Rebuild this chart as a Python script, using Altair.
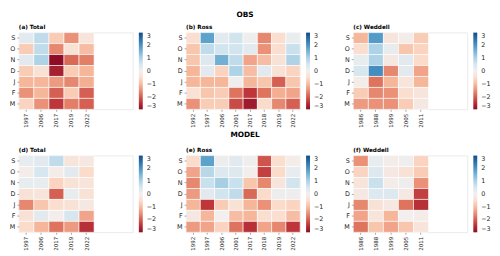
import altair as alt
import pandas as pd

FONT = "DejaVu Sans"

months = ["S", "O", "N", "D", "J", "F", "M"]
years_total = ["1997", "2006", "2017", "2019", "2022"]
years_ross = ["1992", "1997", "2006", "2001", "2017", "2018", "2019", "2022"]
years_weddell = ["1986", "1988", "1999", "2005", "2011"]

# values by month row (S..M), columns by year
obs_total = [
    [0.3, 0.8, -0.8, -1.5, -0.3],
    [-0.8, 0.8, -1.6, -0.4, -1.0],
    [0.3, 1.0, -3.0, -1.9, -1.7],
    [-0.8, -0.4, -2.7, -0.8, -1.1],
    [-1.1, -1.1, -1.4, -1.6, -1.2],
    [-1.5, -1.1, -2.0, -0.8, -2.0],
    [-0.7, -1.5, -2.4, -1.7, -2.0],
]
obs_ross = [
    [-0.5, 1.8, 0.3, 0.6, 0.05, -1.6, -0.5, 0.15],
    [-0.9, 0.8, 0.6, 0.6, 0.3, -1.5, -0.5, 0.7],
    [-0.9, 0.4, 1.6, 0.8, -1.3, -1.0, -0.4, 1.0],
    [-1.1, 0.3, -0.7, 1.0, -1.0, 0.3, -0.4, -0.7],
    [-1.1, -1.1, -1.1, 0.05, -1.1, -0.9, -2.0, -0.9],
    [-0.4, -0.9, -0.8, -1.8, -2.4, -1.8, -1.2, -1.3],
    [-1.5, -0.8, -0.8, -2.2, -2.8, -0.6, -1.6, -2.0],
]
obs_weddell = [
    [-1.1, 1.9, -0.3, -0.1, -0.8],
    [-0.5, 1.0, 0.2, -0.9, -0.7],
    [0.2, 1.0, -0.2, 0.3, -0.6],
    [0.5, 2.1, -1.6, 0.3, -1.3],
    [-0.1, -1.8, -1.1, -0.3, -1.1],
    [-0.8, -1.6, -1.5, -0.5, -0.3],
    [-1.4, -1.5, -1.5, -0.8, -0.2],
]
mod_total = [
    [0.2, 0.3, 0.8, -0.3, -0.2],
    [-0.1, 0.5, -0.1, 0.3, -0.6],
    [0.2, 0.2, -0.7, -0.4, -0.3],
    [-0.4, -0.3, -2.0, 0.2, -0.4],
    [-1.6, -0.9, -0.5, -0.4, -0.2],
    [-0.4, 0.3, -0.05, 0.5, -1.3],
    [-0.6, -1.1, -1.8, -1.4, -2.5],
]
mod_ross = [
    [-0.6, 1.8, 0.1, 0.3, 0.05, -2.1, -0.5, -0.1],
    [-1.3, 0.9, 0.4, 0.4, -0.05, -2.3, -0.6, 0.2],
    [-1.6, 0.7, 1.1, 0.7, -0.9, -1.6, -0.3, 0.6],
    [-1.4, 0.3, 0.6, 0.8, -1.9, -0.6, 0.1, 0.1],
    [-1.1, -2.4, -0.8, -0.4, -1.1, -1.5, -0.6, -0.7],
    [-0.2, -1.1, 0.0, -1.0, -1.1, -0.5, -0.5, -1.0],
    [-1.4, -1.3, -0.7, -1.8, -2.5, -1.3, -1.6, -2.4],
]
mod_weddell = [
    [-1.5, 0.2, -0.1, 0.05, -0.7],
    [-0.7, 0.4, -0.2, -0.4, -0.8],
    [-0.3, 0.7, -0.1, 0.1, -1.5],
    [-0.2, 0.4, 0.4, -0.2, -2.3],
    [-1.6, -0.4, -0.2, -1.8, -2.5],
    [-1.3, -0.3, -1.1, 0.0, -0.1],
    [-1.8, -0.9, -1.3, -0.9, -0.3],
]

W = 116
H = 78
TXT = "#262626"


def panel(title, years, values, header=None, header_y=-20):
    rows = []
    for m, row in zip(months, values):
        for yr, v in zip(years, row):
            rows.append({"year": yr, "month": m, "value": v})
    df = pd.DataFrame(rows)
    cell_w = 15.3 if len(years) == 5 else W / len(years)
    rect = alt.Chart(df).mark_rect(stroke="white", strokeWidth=0.6).encode(
        x=alt.X(
            "year:N",
            sort=years,
            scale=alt.Scale(range=[0, cell_w * len(years)], paddingInner=0, paddingOuter=0),
            axis=alt.Axis(title=None, labelAngle=-90, labelFontSize=5.6, labelFont=FONT,
                          labelColor=TXT, domain=False, tickSize=2, tickColor="#555",
                          tickWidth=0.5, labelPadding=2),
        ),
        y=alt.Y(
            "month:N",
            sort=months,
            scale=alt.Scale(paddingInner=0, paddingOuter=0),
            axis=alt.Axis(title=None, labelAngle=0, labelFontSize=6.5, labelFont=FONT,
                          labelColor=TXT, domain=False, tickSize=2, tickColor="#555",
                          tickWidth=0.5, labelPadding=2),
        ),
        color=alt.Color(
            "value:Q",
            scale=alt.Scale(scheme="redblue", domain=[-3, 3]),
            legend=alt.Legend(
                title=None, orient="right", offset=6, padding=0, type="gradient",
                direction="vertical", gradientLength=H, gradientThickness=4,
                gradientStrokeWidth=0, values=[-3, -2, -1, 0, 1, 2, 3],
                labelFontSize=6.5, labelFont=FONT, labelColor=TXT, labelOffset=4,
                labelOverlap=False,
                labelExpr="replace(datum.label, '-', '\u2212')",
            ),
        ),
    )
    tdf = pd.DataFrame({"t": [title]})
    label = alt.Chart(tdf).mark_text(
        font=FONT, fontSize=5.8, fontWeight="bold", color="black",
        baseline="alphabetic", align="left"
    ).encode(text="t:N", x=alt.value(0), y=alt.value(-4))
    layers = [rect, label]
    if header:
        hdf = pd.DataFrame({"t": [header]})
        layers.append(
            alt.Chart(hdf).mark_text(font=FONT, fontSize=7.5, fontWeight="bold",
                                     color="black", baseline="middle", align="center")
            .encode(text="t:N", x=alt.value(W / 2 + 2), y=alt.value(header_y))
        )
    return alt.layer(*layers).properties(width=W, height=H)


panels = [
    panel("(a) Total", years_total, obs_total),
    panel("(b) Ross", years_ross, obs_ross, header="OBS", header_y=-18),
    panel("(c) Weddell", years_weddell, obs_weddell),
    panel("(d) Total", years_total, mod_total),
    panel("(e) Ross", years_ross, mod_ross, header="MODEL", header_y=-21),
    panel("(f) Weddell", years_weddell, mod_weddell),
]

chart = alt.concat(
    *panels, columns=3, spacing={"row": 47, "column": 54}, bounds="flush"
).resolve_scale(color="independent").resolve_legend(color="independent").properties(
    padding=0
).configure_view(stroke="#e6e6e6", strokeWidth=0.8)

chart.save("out.html", embed_options={"renderer": "svg", "actions": False})
